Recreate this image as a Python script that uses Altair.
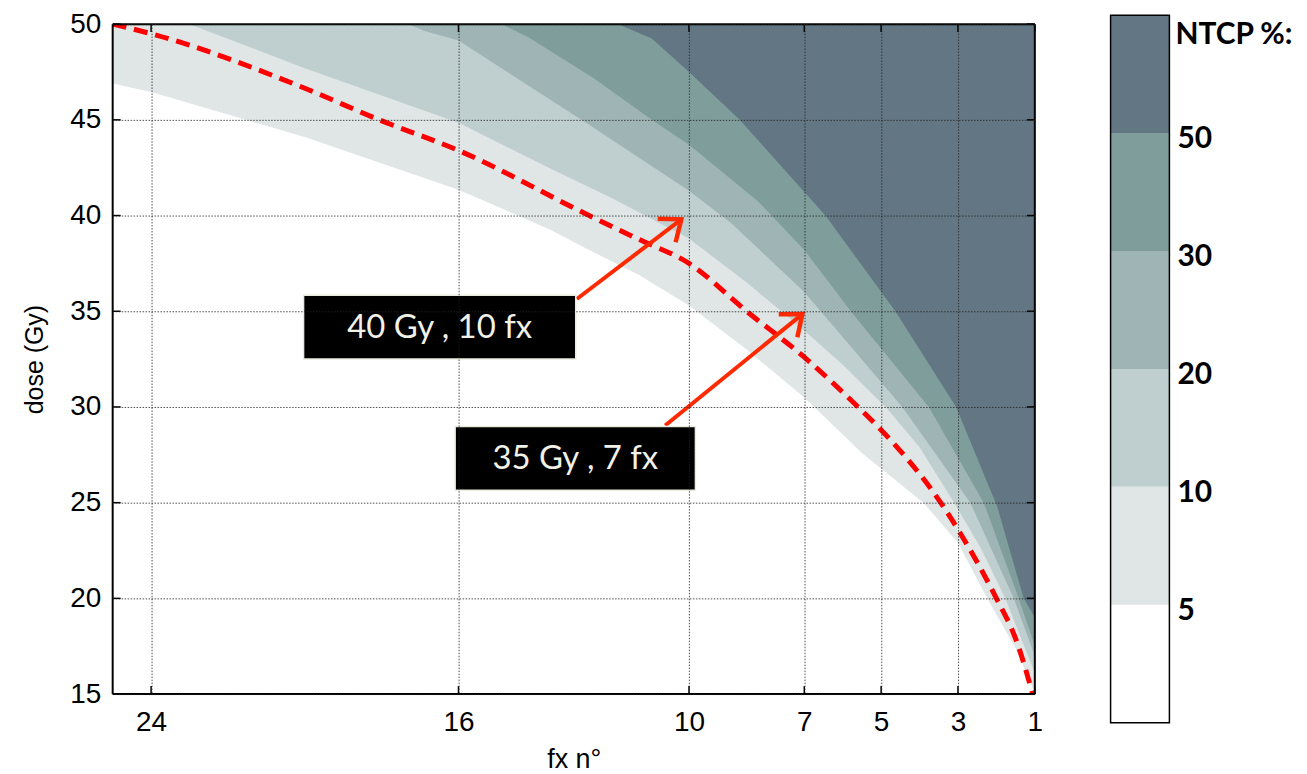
import math
import altair as alt
import pandas as pd

# ---------------- data ----------------
fx_ticks = [24, 16, 10, 7, 5, 3, 1]
dose_ticks = [15, 20, 25, 30, 35, 40, 45, 50]

ntcp_levels = [5, 10, 20, 30, 50]
ntcp_colors = ["#dfe6e5", "#bfcfcf", "#9fb5b5", "#7f9e9b", "#627783"]

# iso-NTCP contour boundaries (number of fractions, dose in Gy)
iso5_fx = [25, 24, 20, 16, 13.65, 12.6, 11.3, 10, 8.5, 7, 5.5, 3.9, 3, 2.24, 1.5, 1]
iso5_dose = [46.9, 46.45, 44.1, 41.35, 39.3, 38.2, 36.9, 35.3, 33.0, 30.5, 27.6, 25.0, 22.9, 20.0, 17.4, 15.05]

iso10_fx = [23, 20, 16, 13.65, 12, 10, 8.5, 7, 6, 4.88, 4, 3.1, 2.4, 1.77, 1]
iso10_dose = [50, 47.7, 44.85, 42.5, 40.9, 38.8, 36.5, 34.0, 32.2, 30.0, 27.9, 25.0, 22.6, 20.0, 16.1]

iso20_fx = [17.3, 16.9, 16, 12.8, 10, 8.9, 7, 4.45, 2.68, 1.55, 1]
iso20_dose = [50, 49.65, 49.15, 45.0, 41.3, 39.6, 36.0, 30.0, 25.0, 20.0, 17.0]

iso30_fx = [14.87, 14.17, 12.5, 10.97, 10, 8.2, 7, 5.79, 3.76, 2.33, 1.42, 1]
iso30_dose = [50, 49.3, 47.2, 45.0, 43.7, 40.74, 38.2, 35.0, 30.0, 25.0, 20.0, 17.5]

iso50_fx = [11.84, 10.97, 10, 8.68, 6.45, 4.63, 3.05, 1.98, 1.29, 1]
iso50_dose = [50, 49.25, 47.5, 45.0, 40.0, 35.0, 30.0, 24.8, 20.0, 19.0]

# red dashed reference curve
ref_fx = [25, 24, 20, 18.06, 16, 12.6, 11.3, 10, 8.5, 7, 5.6, 5, 3.45, 3, 2, 1.5, 1]
ref_dose = [50, 49.5, 46.65, 45, 43.4, 40, 38.75, 37.5, 35, 32.6, 30, 28.8, 25, 23.6, 20, 17.9, 14.6]

# annotations: label and the point the arrow designates
ann_text = ["40 Gy , 10 fx", "35 Gy , 7 fx"]
ann_tip_fx = [10.2, 7.05]
ann_tip_dose = [39.8, 34.85]

cbar_labels = ["5", "10", "20", "30", "50"]

# ---------------- layout / style ----------------
W, H = 925, 672
FX_MIN, FX_MAX = 1, 25
D_MIN, D_MAX = 15, 50

# annotation box centres / sizes and arrow tails (layout)
box_cx = [16.49, 12.96]
box_cy = [34.17, 27.31]
box_w = [273, 241]
box_h = [64, 64]
tail_fx = [12.92, 10.62]
tail_dose = [35.64, 29.03]

AX_FONT = "Liberation Sans"
TXT_FONT = "Lato"
RED = "#ff0000"
ARROW = "#ff2a00"

x_scale = alt.Scale(domain=[FX_MIN, FX_MAX], reverse=True, nice=False, zero=False)
y_scale = alt.Scale(domain=[D_MIN, D_MAX], nice=False, zero=False)

grid_style = dict(grid=True, gridDash=[1.5, 1.5], gridColor="#222222", gridOpacity=0.8,
                  gridWidth=1, ticks=False, tickSize=0, domain=False, zindex=1,
                  labelFont=AX_FONT, labelFontSize=28, labelColor="black",
                  titleFont=AX_FONT, titleFontWeight="normal",
                  titleColor="black", labelOverlap=False, labelFlush=False)

x_axis = alt.Axis(values=fx_ticks, title="fx n°", labelPadding=15, titlePadding=10,
                  titleFontSize=27, **grid_style)
y_axis = alt.Axis(values=dose_ticks, title="dose (Gy)", labelPadding=12, titlePadding=22,
                  titleFontSize=25, **grid_style)

X = lambda f: alt.X(f, type="quantitative", scale=x_scale, axis=x_axis)
Y = lambda f: alt.Y(f, type="quantitative", scale=y_scale, axis=y_axis)

layers = []
iso = {5: (iso5_fx, iso5_dose), 10: (iso10_fx, iso10_dose), 20: (iso20_fx, iso20_dose),
       30: (iso30_fx, iso30_dose), 50: (iso50_fx, iso50_dose)}
for lev, col in zip(ntcp_levels, ntcp_colors):
    fx, d = iso[lev]
    df = pd.DataFrame({"fx": fx, "dose": d})
    layers.append(
        alt.Chart(df).mark_area(color=col, opacity=1, clip=True, interpolate="linear")
        .encode(x=X("fx"), y=Y("dose"), y2=alt.datum(D_MAX))
    )

ref_df = pd.DataFrame({"fx": ref_fx, "dose": ref_dose})
layers.append(
    alt.Chart(ref_df).mark_line(color=RED, strokeWidth=5, strokeDash=[14, 8], clip=True,
                                interpolate="monotone")
    .encode(x=X("fx"), y=Y("dose"))
)


def screen_angle(fx0, d0, fx1, d1):
    dx = -(fx1 - fx0) * W / (FX_MAX - FX_MIN)
    dy = -(d1 - d0) * H / (D_MAX - D_MIN)
    return math.degrees(math.atan2(dx, -dy)) % 360


arrow_df = pd.DataFrame({
    "tail_fx": tail_fx, "tail_dose": tail_dose,
    "tip_fx": ann_tip_fx, "tip_dose": ann_tip_dose,
    "angle": [screen_angle(a, b, c, d) for a, b, c, d in zip(tail_fx, tail_dose, ann_tip_fx, ann_tip_dose)],
})
layers.append(
    alt.Chart(arrow_df).mark_rule(color=ARROW, strokeWidth=4)
    .encode(x=X("tail_fx"), y=Y("tail_dose"), x2="tip_fx", y2="tip_dose")
)
layers.append(
    alt.Chart(arrow_df).mark_point(shape="M -0.8 1 L 0 0 L 0.8 1", filled=False, size=1369,
                                   strokeWidth=4.5, color=ARROW, opacity=1, strokeJoin="miter")
    .encode(x=X("tip_fx"), y=Y("tip_dose"), angle=alt.Angle("angle:Q", scale=None))
)

for i in range(len(ann_text)):
    bdf = pd.DataFrame({"cx": [box_cx[i]], "cy": [box_cy[i]], "label": [ann_text[i]]})
    layers.append(
        alt.Chart(bdf).mark_rect(width=box_w[i], height=box_h[i], color="black",
                                 stroke="#ecebdf", strokeWidth=1.5)
        .encode(x=X("cx"), y=Y("cy"))
    )
    layers.append(
        alt.Chart(bdf).mark_text(font=TXT_FONT, fontSize=33, color="#f2f1e8",
                                 align="center", baseline="middle", dy=1)
        .encode(x=X("cx"), y=Y("cy"), text="label:N")
    )

# inward tick marks (MATLAB style) on all four sides
xt = pd.DataFrame({"t": fx_ticks})
yt = pd.DataFrame({"t": dose_ticks})
TK = 8
layers += [
    alt.Chart(xt).mark_rule(color="black", strokeWidth=1.5).encode(x=X("t"), y=alt.value(H), y2=alt.value(H - TK)),
    alt.Chart(xt).mark_rule(color="black", strokeWidth=1.5).encode(x=X("t"), y=alt.value(0), y2=alt.value(TK)),
    alt.Chart(yt).mark_rule(color="black", strokeWidth=1.5).encode(y=Y("t"), x=alt.value(0), x2=alt.value(TK)),
    alt.Chart(yt).mark_rule(color="black", strokeWidth=1.5).encode(y=Y("t"), x=alt.value(W - TK), x2=alt.value(W)),
]
# frame
one = pd.DataFrame({"k": [0]})
for enc in [dict(x=alt.value(0), x2=alt.value(W), y=alt.value(0)),
            dict(x=alt.value(0), x2=alt.value(W), y=alt.value(H)),
            dict(y=alt.value(0), y2=alt.value(H), x=alt.value(0)),
            dict(y=alt.value(0), y2=alt.value(H), x=alt.value(W))]:
    layers.append(alt.Chart(one).mark_rule(color="black", strokeWidth=2).encode(**enc))

main = alt.layer(*layers).properties(width=W, height=H)

# ---------------- colour bar ----------------
CB_W = 59
CB_TOP_PX, CB_BOT_PX = -9.0, 700.7
vpp = 6 / (CB_BOT_PX - CB_TOP_PX)
cb_scale = alt.Scale(domain=[(CB_BOT_PX - H) * vpp, 6 - (0 - CB_TOP_PX) * vpp], nice=False, zero=False)

cb_df = pd.DataFrame({"lo": list(range(6)), "hi": list(range(1, 7)), "c": ["#ffffff"] + ntcp_colors})
bands = alt.Chart(cb_df).mark_rect().encode(
    x=alt.value(0), x2=alt.value(CB_W),
    y=alt.Y("lo:Q", scale=cb_scale, axis=None), y2="hi:Q",
    color=alt.Color("c:N", scale=None),
)
border = alt.Chart(pd.DataFrame({"lo": [0], "hi": [6]})).mark_rect(
    fillOpacity=0, stroke="black", strokeWidth=1.5
).encode(x=alt.value(0), x2=alt.value(CB_W), y=alt.Y("lo:Q", scale=cb_scale, axis=None), y2="hi:Q")
lab_df = pd.DataFrame({"pos": [1, 2, 3, 4, 5], "label": cbar_labels})
labs = alt.Chart(lab_df).mark_text(
    font=TXT_FONT, fontSize=30, fontWeight="bold", align="left", baseline="middle", dy=6, color="black"
).encode(x=alt.value(CB_W + 8), y=alt.Y("pos:Q", scale=cb_scale, axis=None), text="label:N")
ttl = alt.Chart(one).mark_text(
    font=TXT_FONT, fontSize=30, fontWeight="bold", align="left", baseline="middle", color="black"
).encode(x=alt.value(CB_W + 6), y=alt.value(11), text=alt.value("NTCP %:"))

cbar = alt.layer(bands, border, labs, ttl).properties(width=CB_W, height=H)

chart = (
    alt.hconcat(main, cbar, spacing=67)
    .properties(padding={"left": 14, "top": 1, "right": 5, "bottom": 5})
    .configure_view(stroke=None)
)

chart.save("out.html", embed_options={"renderer": "svg", "actions": False})
